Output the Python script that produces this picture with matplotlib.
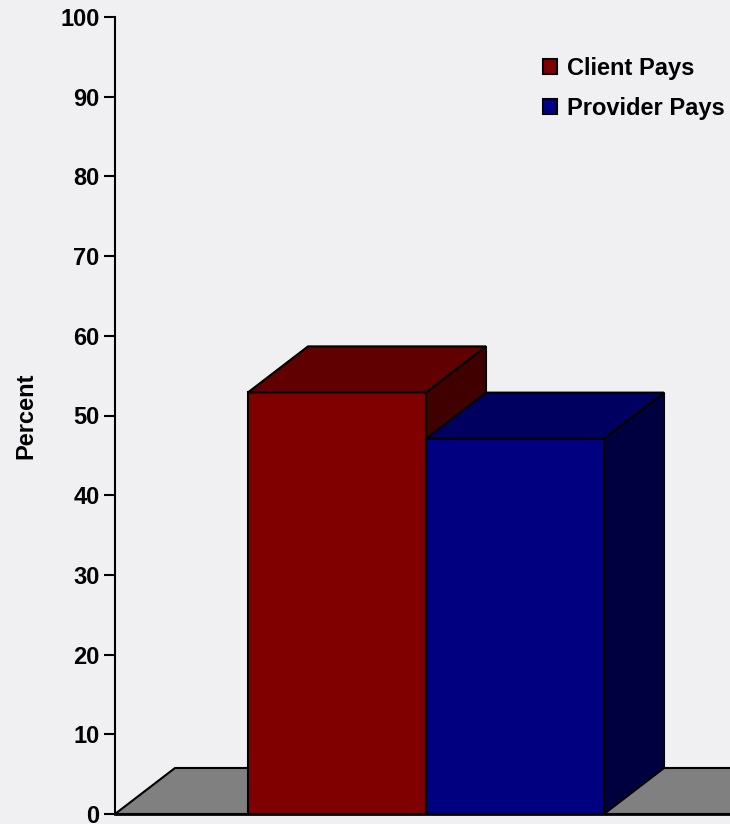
import matplotlib
matplotlib.use("Agg")
import matplotlib.pyplot as plt
from matplotlib.patches import Polygon, Patch

# Data
categories = ["Client Pays", "Provider Pays"]
values = [52.9, 47.1]
front_colors = ["#800000", "#000080"]
top_colors = ["#600000", "#000060"]
side_colors = ["#400000", "#000040"]
yticks = [0, 10, 20, 30, 40, 50, 60, 70, 80, 90, 100]

BG = "#F0F0F2"
FONT = "Liberation Sans"
FS = 17

W, H = 730, 824
fig = plt.figure(figsize=(W / 100, H / 100), dpi=100, facecolor=BG)
ax = fig.add_axes([115 / W, 10 / H, (W - 115) / W, 797 / H])
ax.set_facecolor(BG)

bar_w = 1.0
xmin = -(248 - 115) / 178.0
xmax = (730 - 248) / 178.0
dx = 60 / 178.0
dy = 46 / 7.97

ax.set_xlim(xmin, xmax)
ax.set_ylim(0, 100)

# floor
floor = Polygon([(xmin, 0), (xmax + 2, 0), (xmax + 2 + dx, dy), (xmin + dx, dy)],
                closed=True, facecolor="#808080", edgecolor="black", lw=1.5, zorder=1)
ax.add_patch(floor)

for i, (v, fc, tc, sc) in enumerate(zip(values, front_colors, top_colors, side_colors)):
    x0 = i * bar_w
    x1 = x0 + bar_w
    front = Polygon([(x0, 0), (x1, 0), (x1, v), (x0, v)], closed=True,
                    facecolor=fc, edgecolor="black", lw=1.5, zorder=2 + i * 3)
    top = Polygon([(x0, v), (x1, v), (x1 + dx, v + dy), (x0 + dx, v + dy)], closed=True,
                  facecolor=tc, edgecolor="black", lw=1.5, zorder=3 + i * 3)
    side = Polygon([(x1, 0), (x1 + dx, dy), (x1 + dx, v + dy), (x1, v)], closed=True,
                   facecolor=sc, edgecolor="black", lw=1.5, zorder=2 + i * 3)
    ax.add_patch(side)
    ax.add_patch(front)
    ax.add_patch(top)

ax.axhline(0, color="black", lw=2, zorder=10, clip_on=False)

for s in ["top", "right", "bottom"]:
    ax.spines[s].set_visible(False)
ax.spines["left"].set_linewidth(1.5)
ax.spines["left"].set_zorder(11)
ax.set_xticks([])
ax.set_yticks(yticks)
ax.set_yticklabels([str(t) for t in yticks], fontfamily=FONT, fontweight="bold", fontsize=FS)
ax.tick_params(axis="y", length=8, width=1.5, pad=3)

fig.text(26 / W, 1 - 416 / H, "Percent", rotation=90, ha="center", va="center",
         fontfamily=FONT, fontweight="bold", fontsize=FS)

handles = [Patch(facecolor=c, edgecolor="black", lw=1.5) for c in front_colors]
leg = ax.legend(handles, categories, loc="upper left",
                bbox_to_anchor=(543 / W, 1 - 57 / H), bbox_transform=fig.transFigure,
                frameon=False, handlelength=0.6, handleheight=0.6, handletextpad=0.42,
                labelspacing=0.72, borderpad=0, borderaxespad=0,
                prop={"family": FONT, "weight": "bold", "size": FS})

fig.savefig("out.png", dpi=100, facecolor=BG)
